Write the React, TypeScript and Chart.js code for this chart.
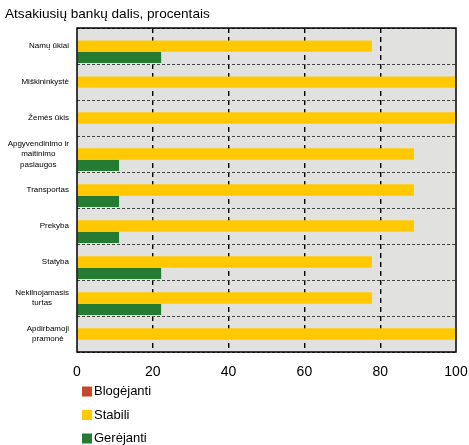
import React, { useEffect, useRef } from "react";
import { Chart, registerables } from "chart.js";

Chart.register(...registerables);

const categories: string[][] = [
  ["Namų ūkiai"],
  ["Miškininkystė"],
  ["Žemės ūkis"],
  ["Apgyvendinimo ir", "maitinimo", "paslaugos"],
  ["Transportas"],
  ["Prekyba"],
  ["Statyba"],
  ["Nekilnojamasis", "turtas"],
  ["Apdirbamoji", "pramonė"],
];
const blogejanti = [0, 0, 0, 0, 0, 0, 0, 0, 0];
const stabili = [77.8, 100, 100, 88.9, 88.9, 88.9, 77.8, 77.8, 100];
const gerejanti = [22.2, 0, 0, 11.1, 11.1, 11.1, 22.2, 22.2, 0];
const seriesNames = ["Blogėjanti", "Stabili", "Gerėjanti"];
const seriesColors = ["#c8472b", "#ffc800", "#267b33"];
const xTicks = [0, 20, 40, 60, 80, 100];
const titleText = "Atsakiusių bankų dalis, procentais";

const FONT = "'Liberation Sans', Arial, sans-serif";

const framePlugin = {
  id: "frameAndLabels",
  beforeDraw(chart: any) {
    const { ctx, chartArea: a } = chart;
    ctx.save();
    ctx.fillStyle = "#e1e2e0";
    ctx.fillRect(a.left, a.top, a.right - a.left, a.bottom - a.top);
    ctx.restore();
  },
  afterDraw(chart: any) {
    const { ctx, chartArea: a } = chart;
    // frame
    ctx.save();
    ctx.strokeStyle = "#000";
    ctx.lineWidth = 1.5;
    ctx.strokeRect(a.left, a.top, a.right - a.left, a.bottom - a.top);
    ctx.restore();

    // y labels (block right-aligned, lines centered)
    const yScale = chart.scales.y;
    ctx.save();
    ctx.font = `8px ${FONT}`;
    ctx.fillStyle = "#000";
    ctx.textAlign = "center";
    ctx.textBaseline = "middle";
    const lh = 10.5;
    categories.forEach((lines, i) => {
      const y = yScale.getPixelForValue(i);
      const maxW = Math.max(...lines.map((l) => ctx.measureText(l).width));
      const cx = a.left - 8 - maxW / 2;
      const y0 = y - ((lines.length - 1) * lh) / 2;
      lines.forEach((l, j) => ctx.fillText(l, cx, y0 + j * lh));
    });
    ctx.restore();

    // legend (vertical)
    ctx.save();
    ctx.font = `13px ${FONT}`;
    ctx.textAlign = "left";
    ctx.textBaseline = "middle";
    seriesNames.forEach((name, i) => {
      const cy = a.bottom + 39.5 + i * 23.5;
      ctx.fillStyle = seriesColors[i];
      ctx.fillRect(a.left + 5, cy - 5, 10, 10);
      ctx.fillStyle = "#000";
      ctx.fillText(name, a.left + 17, cy);
    });
    ctx.restore();
  },
};

export default function App() {
  const ref = useRef<HTMLCanvasElement | null>(null);
  useEffect(() => {
    document.body.style.margin = "0";
    if (!ref.current) return;
    Chart.defaults.font.family = FONT;
    const chart = new Chart(ref.current, {
      type: "bar",
      data: {
        labels: categories.map((c) => c.join(" ")),
        datasets: [blogejanti, stabili, gerejanti].map((d, i) => ({
          label: seriesNames[i],
          data: d,
          backgroundColor: seriesColors[i],
          borderWidth: 0,
          categoryPercentage: 0.94,
          barPercentage: 1,
        })),
      },
      options: {
        indexAxis: "y",
        responsive: false,
        animation: false,
        layout: { padding: { left: 5, right: 13, top: 0, bottom: 63 } },
        plugins: {
          legend: { display: false },
          tooltip: { enabled: false },
          title: {
            display: true,
            text: titleText,
            align: "start",
            color: "#000",
            font: { size: 13.6, weight: "normal", family: FONT },
            padding: { top: 6, bottom: 5.7 },
          },
        },
        scales: {
          x: {
            type: "linear",
            min: 0,
            max: 100,
            afterBuildTicks: (s: any) => {
              s.ticks = xTicks.map((v) => ({ value: v }));
            },
            afterFit: (s: any) => {
              s.height = 30;
              s.paddingLeft = 0;
              s.paddingRight = 0;
            },
            ticks: {
              color: "#000",
              font: { size: 14, family: FONT },
              padding: 12,
              maxRotation: 0,
            },
            grid: {
              drawTicks: false,
              color: (c: any) =>
                c.tick && (c.tick.value === 0 || c.tick.value === 100) ? "rgba(0,0,0,0)" : "#000",
              lineWidth: 1.4,
            },
            border: { display: false, dash: [5, 4] },
          },
          y: {
            type: "category",
            offset: true,
            afterFit: (s: any) => {
              s.width = 72;
              s.paddingTop = 0;
              s.paddingBottom = 0;
            },
            ticks: { display: false },
            grid: { drawTicks: false, color: "#444", lineWidth: 1 },
            border: { display: false, dash: [3, 2] },
          },
        },
      },
      plugins: [framePlugin],
    } as any);
    return () => chart.destroy();
  }, []);
  return <canvas ref={ref} width={469} height={445} style={{ display: "block" }} />;
}
